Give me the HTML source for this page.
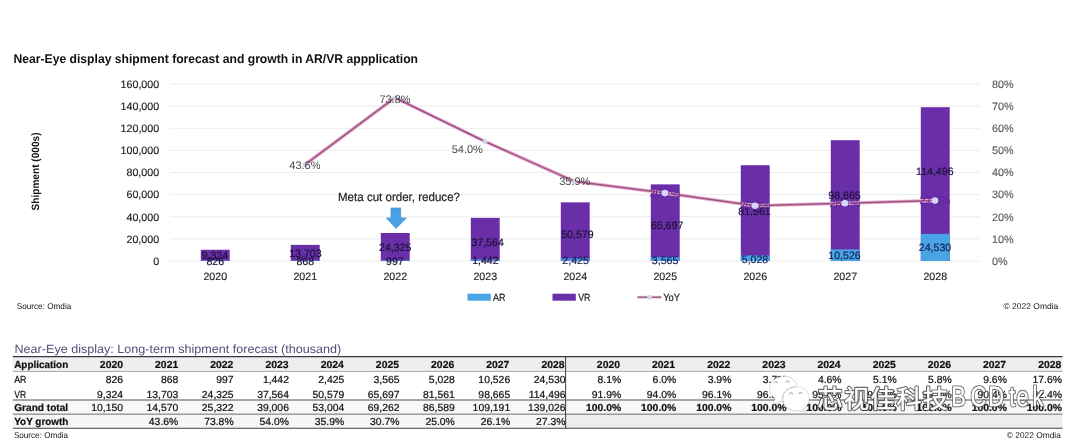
<!DOCTYPE html>
<html><head><meta charset="utf-8"><title>Near-Eye display shipment forecast</title>
<style>
html,body{margin:0;padding:0;background:#fff;}
body{width:1080px;height:444px;overflow:hidden;}
svg{display:block;font-family:"Liberation Sans","Noto Sans CJK SC",sans-serif;text-rendering:geometricPrecision;}
</style></head><body>
<svg width="1080" height="444" viewBox="0 0 1080 444">
<defs><filter id="b2" x="-5%" y="-20%" width="110%" height="140%"><feGaussianBlur stdDeviation="0.3"/></filter><filter id="b1" x="-10%" y="-10%" width="120%" height="120%"><feGaussianBlur stdDeviation="0.45"/></filter></defs>
<rect width="1080" height="444" fill="#ffffff"/>
<text x="13.5" y="62.55" font-size="12.6" fill="#111" font-weight="bold" textLength="404.5" lengthAdjust="spacingAndGlyphs">Near-Eye display shipment forecast and growth in AR/VR appplication</text>
<line x1="170" y1="261.00" x2="980" y2="261.00" stroke="#ececec" stroke-width="1"/>
<text x="159.2" y="264.75" font-size="10.7" fill="#1c1c1c" text-anchor="end" stroke="#1c1c1c" stroke-width="0.15">0</text>
<text x="992" y="264.85" font-size="10.8" fill="#5c5c5c" textLength="15.6" lengthAdjust="spacingAndGlyphs" stroke="#5c5c5c" stroke-width="0.15">0%</text>
<line x1="170" y1="238.88" x2="980" y2="238.88" stroke="#ececec" stroke-width="1"/>
<text x="159.2" y="242.62" font-size="10.7" fill="#1c1c1c" text-anchor="end" stroke="#1c1c1c" stroke-width="0.15">20,000</text>
<text x="992" y="242.72" font-size="10.8" fill="#5c5c5c" textLength="21.6" lengthAdjust="spacingAndGlyphs" stroke="#5c5c5c" stroke-width="0.15">10%</text>
<line x1="170" y1="216.75" x2="980" y2="216.75" stroke="#ececec" stroke-width="1"/>
<text x="159.2" y="220.50" font-size="10.7" fill="#1c1c1c" text-anchor="end" stroke="#1c1c1c" stroke-width="0.15">40,000</text>
<text x="992" y="220.60" font-size="10.8" fill="#5c5c5c" textLength="21.6" lengthAdjust="spacingAndGlyphs" stroke="#5c5c5c" stroke-width="0.15">20%</text>
<line x1="170" y1="194.62" x2="980" y2="194.62" stroke="#ececec" stroke-width="1"/>
<text x="159.2" y="198.38" font-size="10.7" fill="#1c1c1c" text-anchor="end" stroke="#1c1c1c" stroke-width="0.15">60,000</text>
<text x="992" y="198.47" font-size="10.8" fill="#5c5c5c" textLength="21.6" lengthAdjust="spacingAndGlyphs" stroke="#5c5c5c" stroke-width="0.15">30%</text>
<line x1="170" y1="172.50" x2="980" y2="172.50" stroke="#ececec" stroke-width="1"/>
<text x="159.2" y="176.25" font-size="10.7" fill="#1c1c1c" text-anchor="end" stroke="#1c1c1c" stroke-width="0.15">80,000</text>
<text x="992" y="176.35" font-size="10.8" fill="#5c5c5c" textLength="21.6" lengthAdjust="spacingAndGlyphs" stroke="#5c5c5c" stroke-width="0.15">40%</text>
<line x1="170" y1="150.38" x2="980" y2="150.38" stroke="#ececec" stroke-width="1"/>
<text x="159.2" y="154.12" font-size="10.7" fill="#1c1c1c" text-anchor="end" stroke="#1c1c1c" stroke-width="0.15">100,000</text>
<text x="992" y="154.22" font-size="10.8" fill="#5c5c5c" textLength="21.6" lengthAdjust="spacingAndGlyphs" stroke="#5c5c5c" stroke-width="0.15">50%</text>
<line x1="170" y1="128.25" x2="980" y2="128.25" stroke="#ececec" stroke-width="1"/>
<text x="159.2" y="132.00" font-size="10.7" fill="#1c1c1c" text-anchor="end" stroke="#1c1c1c" stroke-width="0.15">120,000</text>
<text x="992" y="132.10" font-size="10.8" fill="#5c5c5c" textLength="21.6" lengthAdjust="spacingAndGlyphs" stroke="#5c5c5c" stroke-width="0.15">60%</text>
<line x1="170" y1="106.12" x2="980" y2="106.12" stroke="#ececec" stroke-width="1"/>
<text x="159.2" y="109.88" font-size="10.7" fill="#1c1c1c" text-anchor="end" stroke="#1c1c1c" stroke-width="0.15">140,000</text>
<text x="992" y="109.97" font-size="10.8" fill="#5c5c5c" textLength="21.6" lengthAdjust="spacingAndGlyphs" stroke="#5c5c5c" stroke-width="0.15">70%</text>
<line x1="170" y1="84.00" x2="980" y2="84.00" stroke="#ececec" stroke-width="1"/>
<text x="159.2" y="87.75" font-size="10.7" fill="#1c1c1c" text-anchor="end" stroke="#1c1c1c" stroke-width="0.15">160,000</text>
<text x="992" y="87.85" font-size="10.8" fill="#5c5c5c" textLength="21.6" lengthAdjust="spacingAndGlyphs" stroke="#5c5c5c" stroke-width="0.15">80%</text>
<text transform="translate(39.3,210.5) rotate(-90)" font-size="10.6" font-weight="bold" fill="#111" textLength="78" lengthAdjust="spacingAndGlyphs">Shipment (000s)</text>
<rect x="200.80" y="249.77" width="28.9" height="11.23" fill="#6a2fa8"/>
<rect x="200.80" y="260.09" width="28.9" height="0.91" fill="#4aa3e5" opacity="0.55"/>
<text x="215.30" y="279.9" font-size="10.7" fill="#1c1c1c" text-anchor="middle" stroke="#1c1c1c" stroke-width="0.15">2020</text>
<rect x="290.80" y="244.88" width="28.9" height="16.12" fill="#6a2fa8"/>
<rect x="290.80" y="260.04" width="28.9" height="0.96" fill="#4aa3e5" opacity="0.55"/>
<text x="305.30" y="279.9" font-size="10.7" fill="#1c1c1c" text-anchor="middle" stroke="#1c1c1c" stroke-width="0.15">2021</text>
<rect x="380.80" y="232.99" width="28.9" height="28.01" fill="#6a2fa8"/>
<rect x="380.80" y="259.90" width="28.9" height="1.10" fill="#4aa3e5" opacity="0.55"/>
<text x="395.30" y="279.9" font-size="10.7" fill="#1c1c1c" text-anchor="middle" stroke="#1c1c1c" stroke-width="0.15">2022</text>
<rect x="470.80" y="217.85" width="28.9" height="43.15" fill="#6a2fa8"/>
<rect x="470.80" y="259.40" width="28.9" height="1.60" fill="#4aa3e5" opacity="0.8"/>
<text x="485.30" y="279.9" font-size="10.7" fill="#1c1c1c" text-anchor="middle" stroke="#1c1c1c" stroke-width="0.15">2023</text>
<rect x="560.80" y="202.36" width="28.9" height="58.64" fill="#6a2fa8"/>
<rect x="560.80" y="258.32" width="28.9" height="2.68" fill="#4aa3e5" opacity="0.8"/>
<text x="575.30" y="279.9" font-size="10.7" fill="#1c1c1c" text-anchor="middle" stroke="#1c1c1c" stroke-width="0.15">2024</text>
<rect x="650.80" y="184.38" width="28.9" height="76.62" fill="#6a2fa8"/>
<rect x="650.80" y="257.06" width="28.9" height="3.94" fill="#4aa3e5"/>
<text x="665.30" y="279.9" font-size="10.7" fill="#1c1c1c" text-anchor="middle" stroke="#1c1c1c" stroke-width="0.15">2025</text>
<rect x="740.80" y="165.21" width="28.9" height="95.79" fill="#6a2fa8"/>
<rect x="740.80" y="255.44" width="28.9" height="5.56" fill="#4aa3e5"/>
<text x="755.30" y="279.9" font-size="10.7" fill="#1c1c1c" text-anchor="middle" stroke="#1c1c1c" stroke-width="0.15">2026</text>
<rect x="830.80" y="140.21" width="28.9" height="120.79" fill="#6a2fa8"/>
<rect x="830.80" y="249.36" width="28.9" height="11.64" fill="#4aa3e5"/>
<text x="845.30" y="279.9" font-size="10.7" fill="#1c1c1c" text-anchor="middle" stroke="#1c1c1c" stroke-width="0.15">2027</text>
<rect x="920.80" y="107.20" width="28.9" height="153.80" fill="#6a2fa8"/>
<rect x="920.80" y="233.86" width="28.9" height="27.14" fill="#4aa3e5"/>
<text x="935.30" y="279.9" font-size="10.7" fill="#1c1c1c" text-anchor="middle" stroke="#1c1c1c" stroke-width="0.15">2028</text>
<polyline points="305.00,164.53 395.00,97.72 485.00,141.52 575.00,181.57 665.00,193.08 755.00,205.69 845.00,203.25 935.00,200.60" fill="none" stroke="#ecaad2" stroke-width="3.5" stroke-linejoin="round"/>
<polyline points="305.00,164.53 395.00,97.72 485.00,141.52 575.00,181.57 665.00,193.08 755.00,205.69 845.00,203.25 935.00,200.60" fill="none" stroke="#97577f" stroke-width="1.5" stroke-linejoin="round"/>
<circle cx="305.00" cy="164.53" r="2.5" fill="#c9d7e6"/>
<circle cx="395.00" cy="97.72" r="2.5" fill="#c9d7e6"/>
<circle cx="485.00" cy="141.52" r="2.5" fill="#c9d7e6"/>
<circle cx="575.00" cy="181.57" r="2.5" fill="#c9d7e6"/>
<text x="215.00" y="259.15" font-size="10.6" fill="#1a1336" text-anchor="middle" stroke="#1a1336" stroke-width="0.2">9,324</text>
<text x="215.30" y="264.75" font-size="10.6" fill="#1a1336" text-anchor="middle" stroke="#1a1336" stroke-width="0.2">826</text>
<text x="305.40" y="256.75" font-size="10.6" fill="#1a1336" text-anchor="middle" stroke="#1a1336" stroke-width="0.2">13,703</text>
<text x="305.30" y="264.75" font-size="10.6" fill="#1a1336" text-anchor="middle" stroke="#1a1336" stroke-width="0.2">868</text>
<text x="395.20" y="250.95" font-size="10.6" fill="#1a1336" text-anchor="middle" stroke="#1a1336" stroke-width="0.2">24,325</text>
<text x="394.90" y="264.75" font-size="10.6" fill="#1a1336" text-anchor="middle" stroke="#1a1336" stroke-width="0.2">997</text>
<text x="487.60" y="245.55" font-size="10.6" fill="#1a1336" text-anchor="middle" stroke="#1a1336" stroke-width="0.2">37,564</text>
<text x="485.40" y="263.95" font-size="10.6" fill="#1a1336" text-anchor="middle" stroke="#1a1336" stroke-width="0.2">1,442</text>
<text x="577.40" y="237.95" font-size="10.6" fill="#1a1336" text-anchor="middle" stroke="#1a1336" stroke-width="0.2">50,579</text>
<text x="575.60" y="263.95" font-size="10.6" fill="#14265a" text-anchor="middle" stroke="#14265a" stroke-width="0.2">2,425</text>
<text x="667.10" y="228.95" font-size="10.6" fill="#1a1336" text-anchor="middle" stroke="#1a1336" stroke-width="0.2">65,697</text>
<text x="665.10" y="263.75" font-size="10.6" fill="#14265a" text-anchor="middle" stroke="#14265a" stroke-width="0.2">3,565</text>
<text x="754.50" y="215.25" font-size="10.6" fill="#1a1336" text-anchor="middle" stroke="#1a1336" stroke-width="0.2">81,561</text>
<text x="755.00" y="262.75" font-size="10.6" fill="#14265a" text-anchor="middle" stroke="#14265a" stroke-width="0.2">5,028</text>
<text x="844.50" y="198.65" font-size="10.6" fill="#1a1336" text-anchor="middle" stroke="#1a1336" stroke-width="0.2">98,665</text>
<text x="844.50" y="258.75" font-size="10.6" fill="#14265a" text-anchor="middle" stroke="#14265a" stroke-width="0.2">10,526</text>
<text x="934.80" y="175.05" font-size="10.6" fill="#1a1336" text-anchor="middle" stroke="#1a1336" stroke-width="0.2">114,496</text>
<text x="935.00" y="251.45" font-size="10.6" fill="#14265a" text-anchor="middle" stroke="#14265a" stroke-width="0.2">24,530</text>
<text x="304.90" y="169.25" font-size="11.0" fill="#484848" text-anchor="middle" textLength="31.2" lengthAdjust="spacingAndGlyphs">43.6%</text>
<text x="395.00" y="102.65" font-size="11.0" fill="#484848" text-anchor="middle" textLength="31.2" lengthAdjust="spacingAndGlyphs">73.8%</text>
<text x="467.30" y="152.65" font-size="11.0" fill="#484848" text-anchor="middle" textLength="31.2" lengthAdjust="spacingAndGlyphs">54.0%</text>
<text x="574.80" y="185.25" font-size="11.0" fill="#484848" text-anchor="middle" textLength="31.2" lengthAdjust="spacingAndGlyphs">35.9%</text>
<text x="665.00" y="196.83" font-size="11.0" fill="#5c2798" text-anchor="middle" textLength="31.2" lengthAdjust="spacingAndGlyphs">30.7%</text>
<text x="755.00" y="209.44" font-size="11.0" fill="#5c2798" text-anchor="middle" textLength="31.2" lengthAdjust="spacingAndGlyphs">25.0%</text>
<text x="845.00" y="207.00" font-size="11.0" fill="#5c2798" text-anchor="middle" textLength="31.2" lengthAdjust="spacingAndGlyphs">26.1%</text>
<text x="935.00" y="204.35" font-size="11.0" fill="#5c2798" text-anchor="middle" textLength="31.2" lengthAdjust="spacingAndGlyphs">27.3%</text>
<circle cx="665.00" cy="193.08" r="3.3" fill="#d6d4fb"/>
<circle cx="755.00" cy="205.69" r="3.3" fill="#d6d4fb"/>
<circle cx="845.00" cy="203.25" r="3.3" fill="#d6d4fb"/>
<circle cx="935.00" cy="200.60" r="3.3" fill="#d6d4fb"/>
<text x="338" y="201.0" font-size="12" fill="#1e1e1e" textLength="122" lengthAdjust="spacingAndGlyphs" stroke="#1e1e1e" stroke-width="0.2">Meta cut order, reduce?</text>
<polygon points="391,208 400.7,208 400.7,218 406.4,218 396,228.4 386.4,218 391,218" fill="#47a1e4" stroke="#3f8ed0" stroke-width="0.7"/>
<rect x="467.5" y="293.7" width="23.3" height="7" fill="#4aa3e5"/>
<text x="493" y="300.8" font-size="10.4" fill="#1c1c1c" textLength="12.5" lengthAdjust="spacingAndGlyphs" stroke="#1c1c1c" stroke-width="0.2">AR</text>
<rect x="552.5" y="293.7" width="23.3" height="7" fill="#6a2fa8"/>
<text x="578.2" y="300.8" font-size="10.4" fill="#1c1c1c" textLength="12.3" lengthAdjust="spacingAndGlyphs" stroke="#1c1c1c" stroke-width="0.2">VR</text>
<line x1="637.5" y1="297.2" x2="661.3" y2="297.2" stroke="#f0bddb" stroke-width="2.8"/>
<line x1="637.5" y1="297.2" x2="661.3" y2="297.2" stroke="#8c5a82" stroke-width="1.35"/>
<circle cx="649.5" cy="297.2" r="2.5" fill="#c9d6e8"/>
<text x="663.2" y="300.8" font-size="10.4" fill="#1c1c1c" textLength="16.8" lengthAdjust="spacingAndGlyphs" stroke="#1c1c1c" stroke-width="0.2">YoY</text>
<text x="16.7" y="309" font-size="8.4" fill="#151515" textLength="54.6" lengthAdjust="spacingAndGlyphs">Source: Omdia</text>
<text x="1058.3" y="309" font-size="8.4" fill="#151515" text-anchor="end" textLength="54.8" lengthAdjust="spacingAndGlyphs">© 2022 Omdia</text>
<text x="14.5" y="352.8" font-size="12.0" fill="#5a4b78" textLength="326.8" lengthAdjust="spacingAndGlyphs">Near-Eye display: Long-term shipment forecast (thousand)</text>
<rect x="12.8" y="357" width="1049.7" height="14.4" fill="#eeeeee"/>
<rect x="12.8" y="414.5" width="552.8000000000001" height="13.8" fill="#f6f6f6"/>
<rect x="565.6" y="414.5" width="496.9" height="13.8" fill="#ededed"/>
<rect x="12.8" y="400.5" width="1049.7" height="14" fill="#f8f8f8"/>
<line x1="12.8" y1="356.6" x2="1062.5" y2="356.6" stroke="#3c3640" stroke-width="1.15"/>
<line x1="12.8" y1="371.5" x2="1062.5" y2="371.4" stroke="#ababab" stroke-width="1"/>
<line x1="12.8" y1="400.0" x2="1062.5" y2="400.0" stroke="#505050" stroke-width="1.1"/>
<line x1="12.8" y1="414.15" x2="1062.5" y2="414.15" stroke="#6a6a6a" stroke-width="1"/>
<line x1="12.8" y1="428.3" x2="1062.5" y2="428.3" stroke="#444" stroke-width="1.1"/>
<line x1="565.6" y1="356.2" x2="565.6" y2="428.8" stroke="#444" stroke-width="1.05"/>
<text x="14.2" y="367.7" font-size="10.2" fill="#111" font-weight="bold" textLength="54" lengthAdjust="spacingAndGlyphs" stroke="#111" stroke-width="0.22">Application</text>
<text transform="translate(123.00,367.7) scale(1.02,1)" font-size="10.2" fill="#111" text-anchor="end" font-weight="bold" stroke="#111" stroke-width="0.22">2020</text>
<text transform="translate(620.00,367.7) scale(1.02,1)" font-size="10.2" fill="#111" text-anchor="end" font-weight="bold" stroke="#111" stroke-width="0.22">2020</text>
<text transform="translate(178.20,367.7) scale(1.02,1)" font-size="10.2" fill="#111" text-anchor="end" font-weight="bold" stroke="#111" stroke-width="0.22">2021</text>
<text transform="translate(675.16,367.7) scale(1.02,1)" font-size="10.2" fill="#111" text-anchor="end" font-weight="bold" stroke="#111" stroke-width="0.22">2021</text>
<text transform="translate(233.40,367.7) scale(1.02,1)" font-size="10.2" fill="#111" text-anchor="end" font-weight="bold" stroke="#111" stroke-width="0.22">2022</text>
<text transform="translate(730.32,367.7) scale(1.02,1)" font-size="10.2" fill="#111" text-anchor="end" font-weight="bold" stroke="#111" stroke-width="0.22">2022</text>
<text transform="translate(288.60,367.7) scale(1.02,1)" font-size="10.2" fill="#111" text-anchor="end" font-weight="bold" stroke="#111" stroke-width="0.22">2023</text>
<text transform="translate(785.48,367.7) scale(1.02,1)" font-size="10.2" fill="#111" text-anchor="end" font-weight="bold" stroke="#111" stroke-width="0.22">2023</text>
<text transform="translate(343.80,367.7) scale(1.02,1)" font-size="10.2" fill="#111" text-anchor="end" font-weight="bold" stroke="#111" stroke-width="0.22">2024</text>
<text transform="translate(840.64,367.7) scale(1.02,1)" font-size="10.2" fill="#111" text-anchor="end" font-weight="bold" stroke="#111" stroke-width="0.22">2024</text>
<text transform="translate(399.00,367.7) scale(1.02,1)" font-size="10.2" fill="#111" text-anchor="end" font-weight="bold" stroke="#111" stroke-width="0.22">2025</text>
<text transform="translate(895.80,367.7) scale(1.02,1)" font-size="10.2" fill="#111" text-anchor="end" font-weight="bold" stroke="#111" stroke-width="0.22">2025</text>
<text transform="translate(454.20,367.7) scale(1.02,1)" font-size="10.2" fill="#111" text-anchor="end" font-weight="bold" stroke="#111" stroke-width="0.22">2026</text>
<text transform="translate(950.96,367.7) scale(1.02,1)" font-size="10.2" fill="#111" text-anchor="end" font-weight="bold" stroke="#111" stroke-width="0.22">2026</text>
<text transform="translate(509.40,367.7) scale(1.02,1)" font-size="10.2" fill="#111" text-anchor="end" font-weight="bold" stroke="#111" stroke-width="0.22">2027</text>
<text transform="translate(1006.12,367.7) scale(1.02,1)" font-size="10.2" fill="#111" text-anchor="end" font-weight="bold" stroke="#111" stroke-width="0.22">2027</text>
<text transform="translate(564.60,367.7) scale(1.02,1)" font-size="10.2" fill="#111" text-anchor="end" font-weight="bold" stroke="#111" stroke-width="0.22">2028</text>
<text transform="translate(1061.28,367.7) scale(1.02,1)" font-size="10.2" fill="#111" text-anchor="end" font-weight="bold" stroke="#111" stroke-width="0.22">2028</text>
<text x="14.2" y="383.1" font-size="10.2" fill="#111" textLength="12.3" lengthAdjust="spacingAndGlyphs" stroke="#111" stroke-width="0.22">AR</text>
<text transform="translate(123.00,383.1) scale(1.02,1)" font-size="10.2" fill="#111" text-anchor="end" stroke="#111" stroke-width="0.22">826</text>
<text transform="translate(621.20,383.1) scale(1.02,1)" font-size="10.2" fill="#111" text-anchor="end" stroke="#111" stroke-width="0.22">8.1%</text>
<text transform="translate(178.31,383.1) scale(1.02,1)" font-size="10.2" fill="#111" text-anchor="end" stroke="#111" stroke-width="0.22">868</text>
<text transform="translate(676.30,383.1) scale(1.02,1)" font-size="10.2" fill="#111" text-anchor="end" stroke="#111" stroke-width="0.22">6.0%</text>
<text transform="translate(233.62,383.1) scale(1.02,1)" font-size="10.2" fill="#111" text-anchor="end" stroke="#111" stroke-width="0.22">997</text>
<text transform="translate(731.40,383.1) scale(1.02,1)" font-size="10.2" fill="#111" text-anchor="end" stroke="#111" stroke-width="0.22">3.9%</text>
<text transform="translate(288.93,383.1) scale(1.02,1)" font-size="10.2" fill="#111" text-anchor="end" stroke="#111" stroke-width="0.22">1,442</text>
<text transform="translate(786.50,383.1) scale(1.02,1)" font-size="10.2" fill="#111" text-anchor="end" stroke="#111" stroke-width="0.22">3.7%</text>
<text transform="translate(344.24,383.1) scale(1.02,1)" font-size="10.2" fill="#111" text-anchor="end" stroke="#111" stroke-width="0.22">2,425</text>
<text transform="translate(841.60,383.1) scale(1.02,1)" font-size="10.2" fill="#111" text-anchor="end" stroke="#111" stroke-width="0.22">4.6%</text>
<text transform="translate(399.55,383.1) scale(1.02,1)" font-size="10.2" fill="#111" text-anchor="end" stroke="#111" stroke-width="0.22">3,565</text>
<text transform="translate(896.70,383.1) scale(1.02,1)" font-size="10.2" fill="#111" text-anchor="end" stroke="#111" stroke-width="0.22">5.1%</text>
<text transform="translate(454.86,383.1) scale(1.02,1)" font-size="10.2" fill="#111" text-anchor="end" stroke="#111" stroke-width="0.22">5,028</text>
<text transform="translate(951.80,383.1) scale(1.02,1)" font-size="10.2" fill="#111" text-anchor="end" stroke="#111" stroke-width="0.22">5.8%</text>
<text transform="translate(510.17,383.1) scale(1.02,1)" font-size="10.2" fill="#111" text-anchor="end" stroke="#111" stroke-width="0.22">10,526</text>
<text transform="translate(1006.90,383.1) scale(1.02,1)" font-size="10.2" fill="#111" text-anchor="end" stroke="#111" stroke-width="0.22">9.6%</text>
<text transform="translate(565.48,383.1) scale(1.02,1)" font-size="10.2" fill="#111" text-anchor="end" stroke="#111" stroke-width="0.22">24,530</text>
<text transform="translate(1062.00,383.1) scale(1.02,1)" font-size="10.2" fill="#111" text-anchor="end" stroke="#111" stroke-width="0.22">17.6%</text>
<text x="14.2" y="397.65" font-size="10.2" fill="#111" textLength="11.9" lengthAdjust="spacingAndGlyphs" stroke="#111" stroke-width="0.22">VR</text>
<text transform="translate(123.00,397.65) scale(1.02,1)" font-size="10.2" fill="#111" text-anchor="end" stroke="#111" stroke-width="0.22">9,324</text>
<text transform="translate(621.20,397.65) scale(1.02,1)" font-size="10.2" fill="#111" text-anchor="end" stroke="#111" stroke-width="0.22">91.9%</text>
<text transform="translate(178.31,397.65) scale(1.02,1)" font-size="10.2" fill="#111" text-anchor="end" stroke="#111" stroke-width="0.22">13,703</text>
<text transform="translate(676.30,397.65) scale(1.02,1)" font-size="10.2" fill="#111" text-anchor="end" stroke="#111" stroke-width="0.22">94.0%</text>
<text transform="translate(233.62,397.65) scale(1.02,1)" font-size="10.2" fill="#111" text-anchor="end" stroke="#111" stroke-width="0.22">24,325</text>
<text transform="translate(731.40,397.65) scale(1.02,1)" font-size="10.2" fill="#111" text-anchor="end" stroke="#111" stroke-width="0.22">96.1%</text>
<text transform="translate(288.93,397.65) scale(1.02,1)" font-size="10.2" fill="#111" text-anchor="end" stroke="#111" stroke-width="0.22">37,564</text>
<text transform="translate(786.50,397.65) scale(1.02,1)" font-size="10.2" fill="#111" text-anchor="end" stroke="#111" stroke-width="0.22">96.3%</text>
<text transform="translate(344.24,397.65) scale(1.02,1)" font-size="10.2" fill="#111" text-anchor="end" stroke="#111" stroke-width="0.22">50,579</text>
<text transform="translate(841.60,397.65) scale(1.02,1)" font-size="10.2" fill="#111" text-anchor="end" stroke="#111" stroke-width="0.22">95.4%</text>
<text transform="translate(399.55,397.65) scale(1.02,1)" font-size="10.2" fill="#111" text-anchor="end" stroke="#111" stroke-width="0.22">65,697</text>
<text transform="translate(896.70,397.65) scale(1.02,1)" font-size="10.2" fill="#111" text-anchor="end" stroke="#111" stroke-width="0.22">94.9%</text>
<text transform="translate(454.86,397.65) scale(1.02,1)" font-size="10.2" fill="#111" text-anchor="end" stroke="#111" stroke-width="0.22">81,561</text>
<text transform="translate(951.80,397.65) scale(1.02,1)" font-size="10.2" fill="#111" text-anchor="end" stroke="#111" stroke-width="0.22">94.2%</text>
<text transform="translate(510.17,397.65) scale(1.02,1)" font-size="10.2" fill="#111" text-anchor="end" stroke="#111" stroke-width="0.22">98,665</text>
<text transform="translate(1006.90,397.65) scale(1.02,1)" font-size="10.2" fill="#111" text-anchor="end" stroke="#111" stroke-width="0.22">90.4%</text>
<text transform="translate(565.48,397.65) scale(1.02,1)" font-size="10.2" fill="#111" text-anchor="end" stroke="#111" stroke-width="0.22">114,496</text>
<text transform="translate(1062.00,397.65) scale(1.02,1)" font-size="10.2" fill="#111" text-anchor="end" stroke="#111" stroke-width="0.22">82.4%</text>
<text x="14.2" y="411.3" font-size="10.2" fill="#111" font-weight="bold" textLength="54" lengthAdjust="spacingAndGlyphs" stroke="#111" stroke-width="0.22">Grand total</text>
<text transform="translate(123.00,411.3) scale(1.02,1)" font-size="10.2" fill="#111" text-anchor="end" stroke="#111" stroke-width="0.22">10,150</text>
<text transform="translate(621.20,411.3) scale(1.02,1)" font-size="10.2" fill="#111" text-anchor="end" font-weight="bold" stroke="#111" stroke-width="0.22">100.0%</text>
<text transform="translate(178.31,411.3) scale(1.02,1)" font-size="10.2" fill="#111" text-anchor="end" stroke="#111" stroke-width="0.22">14,570</text>
<text transform="translate(676.30,411.3) scale(1.02,1)" font-size="10.2" fill="#111" text-anchor="end" font-weight="bold" stroke="#111" stroke-width="0.22">100.0%</text>
<text transform="translate(233.62,411.3) scale(1.02,1)" font-size="10.2" fill="#111" text-anchor="end" stroke="#111" stroke-width="0.22">25,322</text>
<text transform="translate(731.40,411.3) scale(1.02,1)" font-size="10.2" fill="#111" text-anchor="end" font-weight="bold" stroke="#111" stroke-width="0.22">100.0%</text>
<text transform="translate(288.93,411.3) scale(1.02,1)" font-size="10.2" fill="#111" text-anchor="end" stroke="#111" stroke-width="0.22">39,006</text>
<text transform="translate(786.50,411.3) scale(1.02,1)" font-size="10.2" fill="#111" text-anchor="end" font-weight="bold" stroke="#111" stroke-width="0.22">100.0%</text>
<text transform="translate(344.24,411.3) scale(1.02,1)" font-size="10.2" fill="#111" text-anchor="end" stroke="#111" stroke-width="0.22">53,004</text>
<text transform="translate(841.60,411.3) scale(1.02,1)" font-size="10.2" fill="#111" text-anchor="end" font-weight="bold" stroke="#111" stroke-width="0.22">100.0%</text>
<text transform="translate(399.55,411.3) scale(1.02,1)" font-size="10.2" fill="#111" text-anchor="end" stroke="#111" stroke-width="0.22">69,262</text>
<text transform="translate(896.70,411.3) scale(1.02,1)" font-size="10.2" fill="#111" text-anchor="end" font-weight="bold" stroke="#111" stroke-width="0.22">100.0%</text>
<text transform="translate(454.86,411.3) scale(1.02,1)" font-size="10.2" fill="#111" text-anchor="end" stroke="#111" stroke-width="0.22">86,589</text>
<text transform="translate(951.80,411.3) scale(1.02,1)" font-size="10.2" fill="#111" text-anchor="end" font-weight="bold" stroke="#111" stroke-width="0.22">100.0%</text>
<text transform="translate(510.17,411.3) scale(1.02,1)" font-size="10.2" fill="#111" text-anchor="end" stroke="#111" stroke-width="0.22">109,191</text>
<text transform="translate(1006.90,411.3) scale(1.02,1)" font-size="10.2" fill="#111" text-anchor="end" font-weight="bold" stroke="#111" stroke-width="0.22">100.0%</text>
<text transform="translate(565.48,411.3) scale(1.02,1)" font-size="10.2" fill="#111" text-anchor="end" stroke="#111" stroke-width="0.22">139,026</text>
<text transform="translate(1062.00,411.3) scale(1.02,1)" font-size="10.2" fill="#111" text-anchor="end" font-weight="bold" stroke="#111" stroke-width="0.22">100.0%</text>
<text x="14.2" y="425.3" font-size="10.2" fill="#111" font-weight="bold" textLength="54.2" lengthAdjust="spacingAndGlyphs" stroke="#111" stroke-width="0.22">YoY growth</text>
<text transform="translate(178.31,425.3) scale(1.02,1)" font-size="10.2" fill="#111" text-anchor="end" stroke="#111" stroke-width="0.22">43.6%</text>
<text transform="translate(233.62,425.3) scale(1.02,1)" font-size="10.2" fill="#111" text-anchor="end" stroke="#111" stroke-width="0.22">73.8%</text>
<text transform="translate(288.93,425.3) scale(1.02,1)" font-size="10.2" fill="#111" text-anchor="end" stroke="#111" stroke-width="0.22">54.0%</text>
<text transform="translate(344.24,425.3) scale(1.02,1)" font-size="10.2" fill="#111" text-anchor="end" stroke="#111" stroke-width="0.22">35.9%</text>
<text transform="translate(399.55,425.3) scale(1.02,1)" font-size="10.2" fill="#111" text-anchor="end" stroke="#111" stroke-width="0.22">30.7%</text>
<text transform="translate(454.86,425.3) scale(1.02,1)" font-size="10.2" fill="#111" text-anchor="end" stroke="#111" stroke-width="0.22">25.0%</text>
<text transform="translate(510.17,425.3) scale(1.02,1)" font-size="10.2" fill="#111" text-anchor="end" stroke="#111" stroke-width="0.22">26.1%</text>
<text transform="translate(565.48,425.3) scale(1.02,1)" font-size="10.2" fill="#111" text-anchor="end" stroke="#111" stroke-width="0.22">27.3%</text>
<text x="13.9" y="437.8" font-size="8.4" fill="#151515" textLength="54.2" lengthAdjust="spacingAndGlyphs">Source: Omdia</text>
<text x="1060.8" y="437.8" font-size="8.4" fill="#151515" text-anchor="end" textLength="54" lengthAdjust="spacingAndGlyphs">© 2022 Omdia</text>
<g id="wm">
<g stroke="#777" stroke-width="1.2" opacity="0.35" filter="url(#b1)"><ellipse cx="783.5" cy="388.8" rx="13.6" ry="12.4" fill="#777"/><path d="M776,398 l-3.5,6.5 l8,-3.5 z" fill="#777"/><ellipse cx="795.8" cy="398.6" rx="13.2" ry="11.8" fill="#777"/><path d="M801,408 l4.5,4 l-9,-2 z" fill="#777"/></g>
<g ><ellipse cx="783.5" cy="388.8" rx="13.6" ry="12.4" fill="#ffffff"/><path d="M776,398 l-3.5,6.5 l8,-3.5 z" fill="#ffffff"/><ellipse cx="795.8" cy="398.6" rx="13.2" ry="11.8" fill="#ffffff"/><path d="M801,408 l4.5,4 l-9,-2 z" fill="#ffffff"/></g>
<path d="M783.4,402.6 A13.2 11.8 0 0 1 795.8,386.8" fill="none" stroke="#b0b0b0" stroke-width="0.9"/>
<path d="M774.1,383.20000000000005 a1.6 1.6 0 0 1 3.2 0" fill="none" stroke="#9a9a9a" stroke-width="0.9"/>
<path d="M785.9,382.6 a1.6 1.6 0 0 1 3.2 0" fill="none" stroke="#9a9a9a" stroke-width="0.9"/>
<path d="M789.5,394.40000000000003 a1.6 1.6 0 0 1 3.2 0" fill="none" stroke="#9a9a9a" stroke-width="0.9"/>
<path d="M798.9,394.0 a1.6 1.6 0 0 1 3.2 0" fill="none" stroke="#9a9a9a" stroke-width="0.9"/>
<text x="817.6" y="407.6" font-size="25.2" textLength="130.4" lengthAdjust="spacing" fill="#444" stroke="#444" stroke-width="2.5" stroke-linejoin="round" opacity="0.8" filter="url(#b2)">芯视佳科技</text>
<text x="817.6" y="407.6" font-size="25.2" textLength="130.4" lengthAdjust="spacing" fill="#ffffff" stroke="#ffffff" stroke-width="0.35">芯视佳科技</text>
<text transform="scale(0.78,1)" x="1219.7 1244.4 1267.1 1294.0 1303.1 1323.8" y="406.3" font-size="28" fill="#444" stroke="#444" stroke-width="2.5" stroke-linejoin="round" opacity="0.8" filter="url(#b2)">BCDtek</text>
<text transform="scale(0.78,1)" x="1219.7 1244.4 1267.1 1294.0 1303.1 1323.8" y="406.3" font-size="28" fill="#ffffff" stroke="#ffffff" stroke-width="0.35">BCDtek</text>
</g>
</svg>
</body></html>
